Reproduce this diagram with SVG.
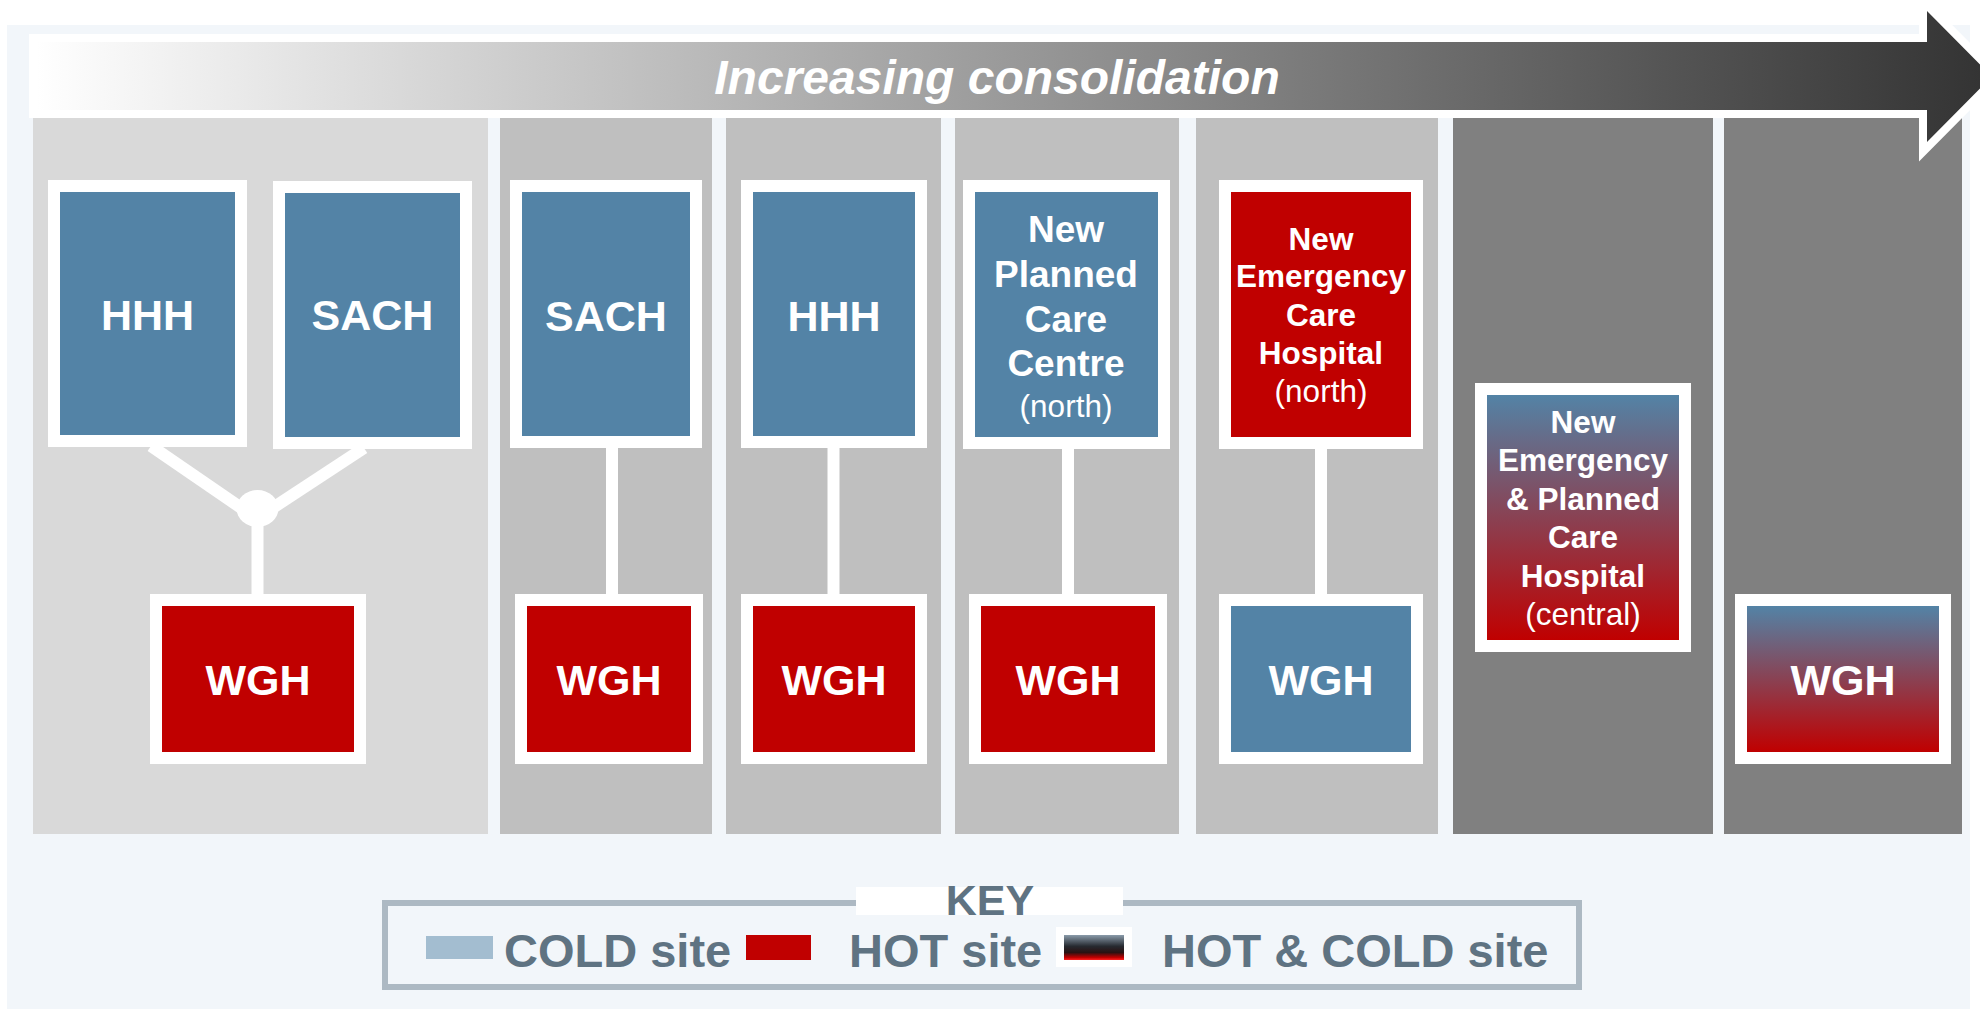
<svg xmlns="http://www.w3.org/2000/svg" width="1980" height="1010" viewBox="0 0 1980 1010">
<defs>
<linearGradient id="arrowGrad" gradientUnits="userSpaceOnUse" x1="36" y1="0" x2="1990" y2="0">
<stop offset="0" stop-color="#FFFFFF"/>
<stop offset="1" stop-color="#333333"/>
</linearGradient>
<linearGradient id="hotCold" x1="0" y1="0" x2="0" y2="1">
<stop offset="0" stop-color="#5383A6"/>
<stop offset="1" stop-color="#C00000"/>
</linearGradient>
<linearGradient id="keyGrad" x1="0" y1="0" x2="0" y2="1">
<stop offset="0" stop-color="#8A9BAA"/>
<stop offset="0.45" stop-color="#262A30"/>
<stop offset="0.7" stop-color="#2A1212"/>
<stop offset="0.9" stop-color="#C00000"/>
<stop offset="1" stop-color="#FF2020"/>
</linearGradient>
<style>
.col1{fill:#D9D9D9}
.colm{fill:#BFBFBF}
.cold{fill:#808080}
.frame{fill:#FFFFFF}
.cold-site{fill:#5383A6}
.hot-site{fill:#C00000}
.mixed{fill:url(#hotCold)}
.lbl{font-family:"Liberation Sans",Arial,sans-serif;font-weight:bold;fill:#FFFFFF;text-anchor:middle}
.big{font-size:43px}
.med{font-size:37px}
.sm{font-size:31.5px}
.reg{font-weight:normal}
.conn{stroke:#FFFFFF;stroke-width:12;fill:none}
.keytxt{font-family:"Liberation Sans",Arial,sans-serif;font-weight:bold;fill:#5F7382;font-size:47px}
</style>
</defs>

<!-- background panel -->
<rect x="7" y="25" width="1963" height="984" fill="#F2F6FA"/>

<!-- columns -->
<rect class="col1" x="33" y="118" width="455" height="716"/>
<rect class="colm" x="500" y="118" width="212" height="716"/>
<rect class="colm" x="726" y="118" width="215" height="716"/>
<rect class="colm" x="955" y="118" width="224" height="716"/>
<rect class="colm" x="1196" y="118" width="242" height="716"/>
<rect class="cold" x="1453" y="118" width="260" height="716"/>
<rect class="cold" x="1724" y="118" width="238" height="716"/>

<!-- arrow -->
<g id="arrow">
<path d="M37,42 H1927 V11 L1992,76.5 L1927,142 V110 H37 Z" fill="none" stroke="#FFFFFF" stroke-width="16" stroke-linejoin="miter" stroke-miterlimit="6"/>
<path d="M37,42 H1927 V11 L1992,76.5 L1927,142 V110 H37 Z" fill="url(#arrowGrad)"/>
<text x="997" y="94" font-family="Liberation Sans, Arial, sans-serif" font-weight="bold" font-style="italic" font-size="48" fill="#FFFFFF" text-anchor="middle">Increasing consolidation</text>
</g>

<!-- connectors -->
<g id="connectors">
<line class="conn" x1="151" y1="446" x2="250" y2="514"/>
<line class="conn" x1="364" y1="448" x2="262" y2="515"/>
<ellipse cx="257.5" cy="508.5" rx="21" ry="18.5" fill="#FFFFFF"/>
<line class="conn" x1="257.5" y1="508" x2="257.5" y2="596"/>
<line class="conn" x1="612" y1="446" x2="612" y2="596"/>
<line class="conn" x1="833.5" y1="446" x2="833.5" y2="596"/>
<line class="conn" x1="1068" y1="446" x2="1068" y2="596"/>
<line class="conn" x1="1321" y1="446" x2="1321" y2="596"/>
</g>

<!-- column 1 -->
<g id="c1-hhh">
<rect class="frame" x="48" y="180" width="199" height="267"/>
<rect class="cold-site" x="60" y="192" width="175" height="243"/>
<text class="lbl big" x="147.5" y="330">HHH</text>
</g>
<g id="c1-sach">
<rect class="frame" x="273" y="181" width="199" height="268"/>
<rect class="cold-site" x="285" y="193" width="175" height="244"/>
<text class="lbl big" x="372.5" y="330">SACH</text>
</g>
<g id="c1-wgh">
<rect class="frame" x="150" y="594" width="216" height="170"/>
<rect class="hot-site" x="162" y="606" width="192" height="146"/>
<text class="lbl big" x="258" y="695">WGH</text>
</g>

<!-- column 2 -->
<g id="c2-sach">
<rect class="frame" x="510" y="180" width="192" height="268"/>
<rect class="cold-site" x="522" y="192" width="168" height="244"/>
<text class="lbl big" x="606" y="331">SACH</text>
</g>
<g id="c2-wgh">
<rect class="frame" x="515" y="594" width="188" height="170"/>
<rect class="hot-site" x="527" y="606" width="164" height="146"/>
<text class="lbl big" x="609" y="695">WGH</text>
</g>

<!-- column 3 -->
<g id="c3-hhh">
<rect class="frame" x="741" y="180" width="186" height="268"/>
<rect class="cold-site" x="753" y="192" width="162" height="244"/>
<text class="lbl big" x="834" y="331">HHH</text>
</g>
<g id="c3-wgh">
<rect class="frame" x="741" y="594" width="186" height="170"/>
<rect class="hot-site" x="753" y="606" width="162" height="146"/>
<text class="lbl big" x="834" y="695">WGH</text>
</g>

<!-- column 4 -->
<g id="c4-planned">
<rect class="frame" x="963" y="180" width="207" height="269"/>
<rect class="cold-site" x="975" y="192" width="183" height="245"/>
<text class="lbl med" x="1066" y="242">New</text>
<text class="lbl med" x="1066" y="287">Planned</text>
<text class="lbl med" x="1066" y="332">Care</text>
<text class="lbl med" x="1066" y="376">Centre</text>
<text class="lbl sm reg" x="1066" y="417">(north)</text>
</g>
<g id="c4-wgh">
<rect class="frame" x="969" y="594" width="198" height="170"/>
<rect class="hot-site" x="981" y="606" width="174" height="146"/>
<text class="lbl big" x="1068" y="695">WGH</text>
</g>

<!-- column 5 -->
<g id="c5-emergency">
<rect class="frame" x="1219" y="180" width="204" height="269"/>
<rect class="hot-site" x="1231" y="192" width="180" height="245"/>
<text class="lbl sm" x="1321" y="250">New</text>
<text class="lbl sm" x="1321" y="287">Emergency</text>
<text class="lbl sm" x="1321" y="326">Care</text>
<text class="lbl sm" x="1321" y="364">Hospital</text>
<text class="lbl sm reg" x="1321" y="402">(north)</text>
</g>
<g id="c5-wgh">
<rect class="frame" x="1219" y="594" width="204" height="170"/>
<rect class="cold-site" x="1231" y="606" width="180" height="146"/>
<text class="lbl big" x="1321" y="695">WGH</text>
</g>

<!-- column 6 -->
<g id="c6-central">
<rect class="frame" x="1475" y="383" width="216" height="269"/>
<rect class="mixed" x="1487" y="395" width="192" height="245"/>
<text class="lbl sm" x="1583" y="433">New</text>
<text class="lbl sm" x="1583" y="471">Emergency</text>
<text class="lbl sm" x="1583" y="510">&amp; Planned</text>
<text class="lbl sm" x="1583" y="548">Care</text>
<text class="lbl sm" x="1583" y="587">Hospital</text>
<text class="lbl sm reg" x="1583" y="625">(central)</text>
</g>

<!-- column 7 -->
<g id="c7-wgh">
<rect class="frame" x="1735" y="594" width="216" height="170"/>
<rect class="mixed" x="1747" y="606" width="192" height="146"/>
<text class="lbl big" x="1843" y="695">WGH</text>
</g>

<!-- key -->
<g id="key">
<rect x="385" y="903" width="1194" height="84" fill="#F2F6FA" stroke="#ADB9C3" stroke-width="6"/>
<rect x="856" y="887" width="267" height="28" fill="#FFFFFF"/>
<text class="keytxt" x="990" y="915" text-anchor="middle" style="font-size:43px">KEY</text>
<rect x="426" y="936" width="67" height="23" fill="#A3BDD0"/>
<text class="keytxt" x="504" y="967">COLD site</text>
<rect x="746" y="935" width="65" height="25" fill="#C00000"/>
<text class="keytxt" x="849" y="967">HOT site</text>
<rect x="1056" y="927" width="76" height="40" fill="#FFFFFF"/>
<rect x="1064" y="935" width="60" height="25" fill="url(#keyGrad)"/>
<text class="keytxt" x="1162" y="967">HOT &amp; COLD site</text>
</g>
</svg>
